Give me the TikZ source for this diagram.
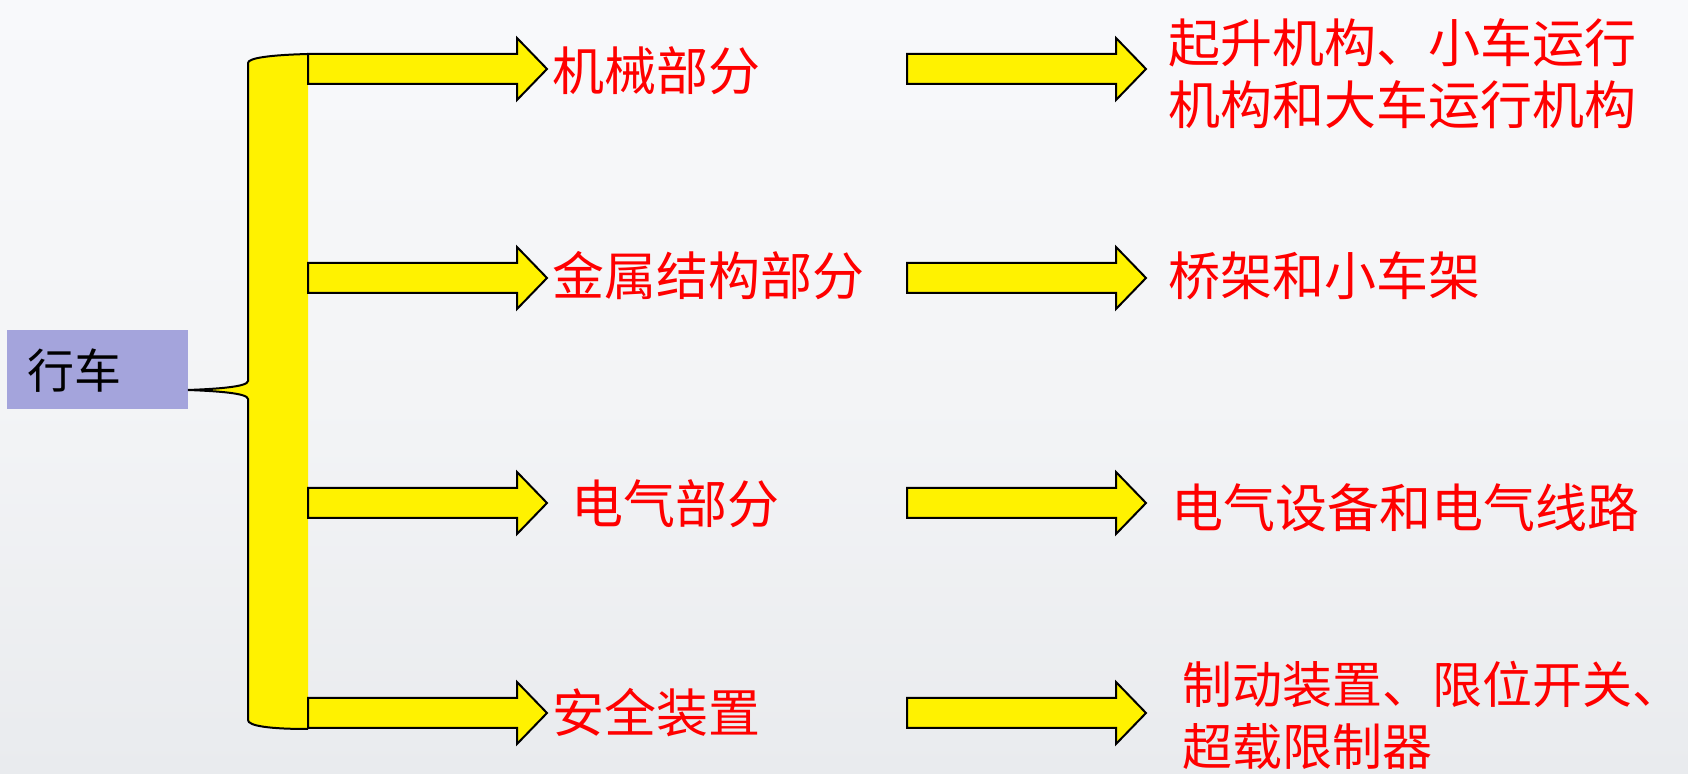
\documentclass[tikz,border=0pt]{standalone}
\usepackage{fontspec}
\newfontfamily\cjk{Noto Sans CJK SC}
\definecolor{rootfill}{HTML}{A4A4DC}
\definecolor{bgtop}{HTML}{F8F9FB}
\definecolor{bgmid}{HTML}{F3F4F6}
\definecolor{bgbot}{HTML}{E9EBEE}
\tikzset{
  barrowstyle/.style={fill=yellow, draw=black, line width=1pt, line join=miter},
  bracefill/.style={fill=yellow},
  braceline/.style={draw=black, line width=1pt},
  redtext/.style={text=red, font=\cjk\fontsize{26}{31}\selectfont, anchor=west, inner sep=0pt, align=left},
  rootbox/.style={fill=rootfill, draw=none, minimum width=90.75pt, minimum height=39.5pt, inner sep=0pt},
}
\newcommand{\barrow}[3]{%
  \draw[barrowstyle] (#1,#3-15) -- (#2-30,#3-15) -- (#2-30,#3-31) -- (#2,#3) -- (#2-30,#3+31) -- (#2-30,#3+15) -- (#1,#3+15) -- cycle;}
\begin{document}
\begin{tikzpicture}[x=0.5pt,y=-0.5pt]
\useasboundingbox (0,0) rectangle (1688,774);
% background
\shade[top color=bgtop, bottom color=bgmid] (0,0) rectangle (1688,400);
\shade[top color=bgmid, bottom color=bgbot] (0,400) rectangle (1688,774);
% root
\node[rootbox] (root) at (97.25,369.5) {};
\node[font=\cjk\fontsize{23.5}{28}\selectfont, anchor=west, inner sep=0pt] (roottext) at (27,371) {行车};
% brace
\fill[bracefill] (308,54) .. controls (270,55) and (248,58) .. (248,63) -- (248,381)
  .. controls (248,387) and (215,389) .. (188,390) .. controls (215,391) and (248,393) .. (248,399)
  -- (248,720) .. controls (248,726) and (270,729) .. (308,729) -- cycle;
\draw[braceline] (308,54) .. controls (270,55) and (248,58) .. (248,63) -- (248,381)
  .. controls (248,387) and (215,389) .. (188,390) .. controls (215,391) and (248,393) .. (248,399)
  -- (248,720) .. controls (248,726) and (270,729) .. (308,729);
% left arrows
\barrow{308}{547}{69}
\barrow{308}{547}{278}
\barrow{308}{547}{503}
\barrow{308}{547}{713}
% right arrows
\barrow{907}{1146}{69}
\barrow{907}{1146}{278}
\barrow{907}{1146}{503}
\barrow{907}{1146}{713}
% category texts
\node[redtext] (c1) at (552,71) {机械部分};
\node[redtext] (c2) at (552,276) {金属结构部分};
\node[redtext] (c3) at (571,504) {电气部分};
\node[redtext] (c4) at (552,713) {安全装置};
% detail texts
\node[redtext] (d1) at (1168,74) {起升机构、小车运行\\机构和大车运行机构};
\node[redtext] (d2) at (1168,276) {桥架和小车架};
\node[redtext] (d3) at (1171,508) {电气设备和电气线路};
\node[redtext, font=\cjk\fontsize{25}{31}\selectfont] (d4) at (1182,715) {制动装置、限位开关、\\超载限制器};
\end{tikzpicture}
\end{document}
